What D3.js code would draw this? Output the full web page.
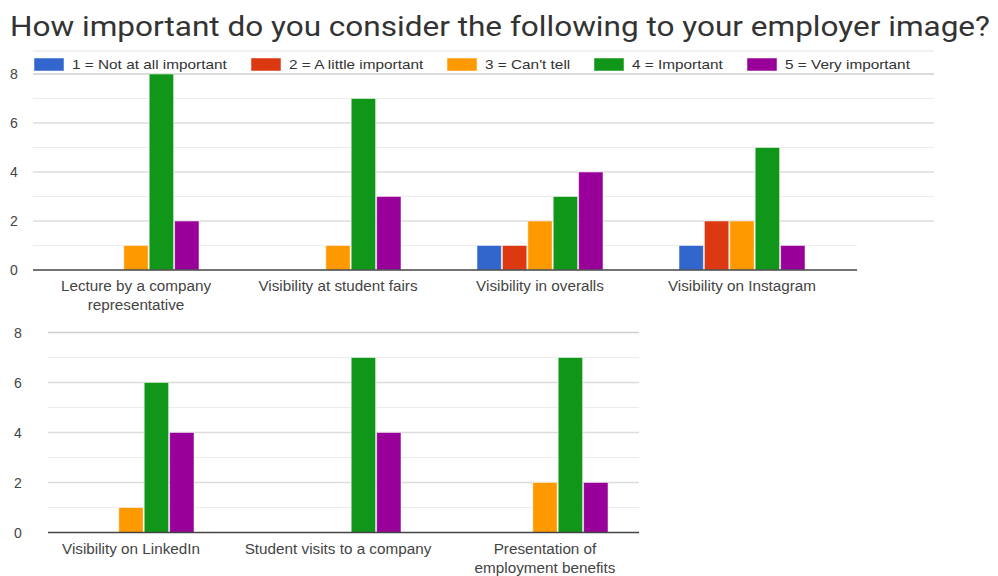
<!DOCTYPE html>
<html>
<head>
<meta charset="utf-8">
<script src="https://cdn.jsdelivr.net/npm/d3@7"></script>
<style>
  html, body { margin: 0; padding: 0; background: #fff; }
  svg { display: block; }
</style>
</head>
<body>
<svg id="chart" width="998" height="576"></svg>
<script>
// Survey answers: how many respondents picked each importance level per item
const title = "How important do you consider the following to your employer image?";
const seriesNames = ["1 = Not at all important", "2 = A little important", "3 = Can't tell", "4 = Important", "5 = Very important"];
const seriesColors = ["#3366cc", "#dc3912", "#ff9900", "#109618", "#990099"];

const topCategories = [["Lecture by a company", "representative"], ["Visibility at student fairs"], ["Visibility in overalls"], ["Visibility on Instagram"]];
const bottomCategories = [["Visibility on LinkedIn"], ["Student visits to a company"], ["Presentation of", "employment benefits"]];

// counts per importance level, one entry per item (top four items, then bottom three)
const notAtAllImportant = [0, 0, 1, 1, 0, 0, 0];
const aLittleImportant  = [0, 0, 1, 2, 0, 0, 0];
const cantTell          = [1, 1, 2, 2, 1, 0, 2];
const important         = [8, 7, 3, 5, 6, 7, 7];
const veryImportant     = [2, 3, 4, 1, 4, 4, 2];

const yTicks = [0, 2, 4, 6, 8];
const yMinor = [1, 3, 5, 7];

const seriesValues = [notAtAllImportant, aLittleImportant, cantTell, important, veryImportant];

const svg = d3.select("#chart");
const font = "Arial, 'Liberation Sans', sans-serif";

// widen a text element's glyphs horizontally by a factor, keeping its anchor
function widen(sel, factor) {
  sel.each(function () {
    const len = this.getComputedTextLength();
    d3.select(this).attr("textLength", len * factor).attr("lengthAdjust", "spacingAndGlyphs");
  });
}

svg.append("text")
  .attr("x", 10).attr("y", 36)
  .attr("font-family", "Roboto, sans-serif")
  .attr("font-size", 27)
  .attr("fill", "#333")
  .attr("textLength", 980)
  .attr("lengthAdjust", "spacingAndGlyphs")
  .text(title);

function panel(cfg) {
  const g = svg.append("g");
  const y = d3.scaleLinear().domain([0, 8]).range([cfg.y0, cfg.y8]);
  const x = d3.scaleBand().domain(cfg.cats.map((c, i) => i)).range(cfg.xRange);
  const xs = d3.scaleBand().domain(d3.range(seriesNames.length)).range([-63, 63]).paddingInner(0.04);

  // gridlines
  g.selectAll("line.minor").data(yMinor).join("line")
    .attr("x1", cfg.gl).attr("x2", d => cfg.gridRight(d))
    .attr("y1", d => y(d)).attr("y2", d => y(d))
    .attr("stroke", "#ececec").attr("stroke-width", 1.2);
  g.selectAll("line.major").data(yTicks.filter(d => d > 0)).join("line")
    .attr("x1", cfg.gl).attr("x2", d => cfg.gridRight(d))
    .attr("y1", d => y(d)).attr("y2", d => y(d))
    .attr("stroke", d => d === 8 ? "#cfcfcf" : "#dcdcdc").attr("stroke-width", 1.4);

  // y tick labels
  const ax = g.append("g").attr("transform", `translate(${cfg.tickX},0)`)
    .call(d3.axisLeft(y).tickValues(yTicks).tickSize(0).tickPadding(0));
  ax.select(".domain").remove();
  ax.selectAll("text").attr("font-family", font).attr("font-size", 14)
    .attr("fill", "#444").attr("text-anchor", "middle").attr("dy", "0.35em");

  // bars
  cfg.cats.forEach((cat, ci) => {
    const idx = cfg.offset + ci;
    const cx = x(ci) + x.bandwidth() / 2;
    g.selectAll(null).data(seriesValues.map((vals, si) => ({ si, v: vals[idx] })).filter(d => d.v > 0))
      .join("rect")
      .attr("x", d => cx + xs(d.si))
      .attr("width", xs.bandwidth())
      .attr("y", d => y(d.v))
      .attr("height", d => y(0) - y(d.v))
      .attr("fill", d => seriesColors[d.si])
      .attr("stroke", "#ffffff").attr("stroke-opacity", 0.5).attr("stroke-width", 1);

    const t = g.append("text")
      .attr("x", cx).attr("y", cfg.labelY)
      .attr("font-family", font).attr("font-size", 14)
      .attr("fill", "#444").attr("text-anchor", "middle");
    cat.forEach((line, li) => t.append("tspan").attr("x", cx).attr("dy", li === 0 ? 0 : 19).text(line));
    widen(t.selectAll("tspan"), 1.09);
  });

  // baseline
  g.append("line")
    .attr("x1", cfg.gl).attr("x2", cfg.baseRight)
    .attr("y1", y(0)).attr("y2", y(0))
    .attr("stroke", "#444").attr("stroke-width", 1.6);
}

panel({
  cats: topCategories, offset: 0,
  y0: 270, y8: 74,
  xRange: [35, 843],
  gl: 33, baseRight: 857,
  gridRight: d => d >= 2 ? 934 : 857,
  tickX: 14, labelY: 291
});

panel({
  cats: bottomCategories, offset: 4,
  y0: 532.5, y8: 332.5,
  xRange: [27.5, 648.5],
  gl: 48, baseRight: 639,
  gridRight: () => 639,
  tickX: 18, labelY: 554
});

// rule above the legend
svg.append("line").attr("x1", 33).attr("x2", 934).attr("y1", 51).attr("y2", 51)
  .attr("stroke", "#e4e4e4").attr("stroke-width", 1.2);

// legend
const legendX = [34, 251, 447, 594, 747];
const lg = svg.append("g");
seriesNames.forEach((name, i) => {
  lg.append("rect").attr("x", legendX[i]).attr("y", 58).attr("width", 30).attr("height", 13)
    .attr("fill", seriesColors[i]).attr("stroke", "#fff").attr("stroke-opacity", 0.5);
  const t = lg.append("text").attr("x", legendX[i] + 38).attr("y", 69)
    .attr("font-family", font).attr("font-size", 13).attr("fill", "#333")
    .text(name);
  widen(t, 1.18);
});
</script>
</body>
</html>
